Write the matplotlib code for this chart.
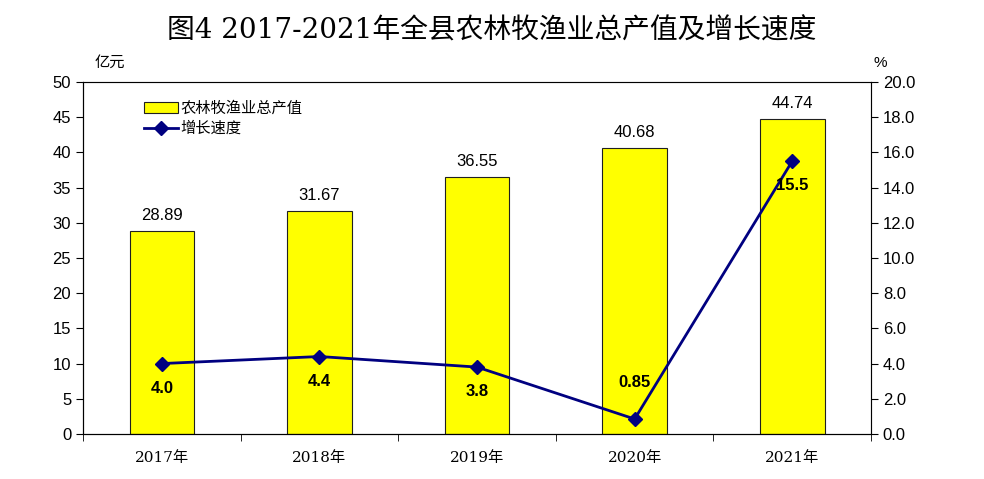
import matplotlib.pyplot as plt
import numpy as np

plt.rcParams['font.family'] = ['Liberation Sans', 'Noto Sans CJK SC']

# data
years = ["2017年", "2018年", "2019年", "2020年", "2021年"]
output_value = [28.89, 31.67, 36.55, 40.68, 44.74]
growth_rate = [4.0, 4.4, 3.8, 0.85, 15.5]
growth_labels = ["4.0", "4.4", "3.8", "0.85", "15.5"]

fig = plt.figure(figsize=(9.84, 4.79), dpi=100)
ax = fig.add_axes([0.0844, 0.094, 0.8008, 0.735])
x = np.arange(len(years))

bars = ax.bar(x, output_value, width=0.41, color='#FFFF00', edgecolor='#202020',
              linewidth=0.8, label='农林牧渔业总产值', zorder=2)
for xi, v in zip(x, output_value):
    ax.text(xi, v + 1.1, f"{v:.2f}", ha='center', va='bottom', fontsize=12)

ax.set_ylim(0, 50)
ax.set_yticks(range(0, 51, 5))
ax.set_xlim(-0.5, 4.5)
ax.set_xticks(x)
ax.set_xticklabels(years, family=['DejaVu Serif', 'Noto Sans CJK SC'], fontsize=11)
ax.set_xticks(np.arange(-0.5, 5, 1), minor=True)
ax.tick_params(axis='x', which='major', length=0, pad=12)
ax.tick_params(axis='x', which='minor', length=5, direction='out')
ax.tick_params(axis='y', labelsize=12, length=5, direction='out')
for s in ax.spines.values():
    s.set_color('#808080')
ax.spines['bottom'].set_color('black')
ax.spines['left'].set_color('black')

ax2 = ax.twinx()
line, = ax2.plot(x, growth_rate, color='#000080', linewidth=2, marker='D',
                 markersize=7, label='增长速度', zorder=3)
ax2.set_ylim(0, 20)
ax2.set_yticks(np.arange(0, 20.1, 2))
ax2.set_yticklabels([f"{t:.1f}" for t in np.arange(0, 20.1, 2)])
ax2.tick_params(axis='y', labelsize=12, length=5, direction='out')
ax2.spines['right'].set_color('black')

offsets = [-1.4, -1.4, -1.4, 2.1, -1.4]
for xi, v, lab, off in zip(x, growth_rate, growth_labels, offsets):
    ax2.text(xi, v + off, lab, ha='center', va='center', fontsize=12,
             fontweight='bold')

ax.text(0.015, 1.035, '亿元', transform=ax.transAxes, ha='left', va='bottom',
        fontsize=11)
ax2.text(1.003, 1.035, '%', transform=ax.transAxes, ha='left', va='bottom',
         fontsize=11)

ax.legend([bars, line], ['农林牧渔业总产值', '增长速度'], loc='upper left',
          bbox_to_anchor=(0.06, 0.985), frameon=False, fontsize=11,
          handlelength=2.2, handletextpad=0.2, labelspacing=0.4)

fig.text(0.5, 0.935, '图4 2017-2021年全县农林牧渔业总产值及增长速度',
         ha='center', va='center', fontsize=20,
         family=['DejaVu Serif', 'Noto Sans CJK SC'])

fig.savefig('out.png', dpi=100)
